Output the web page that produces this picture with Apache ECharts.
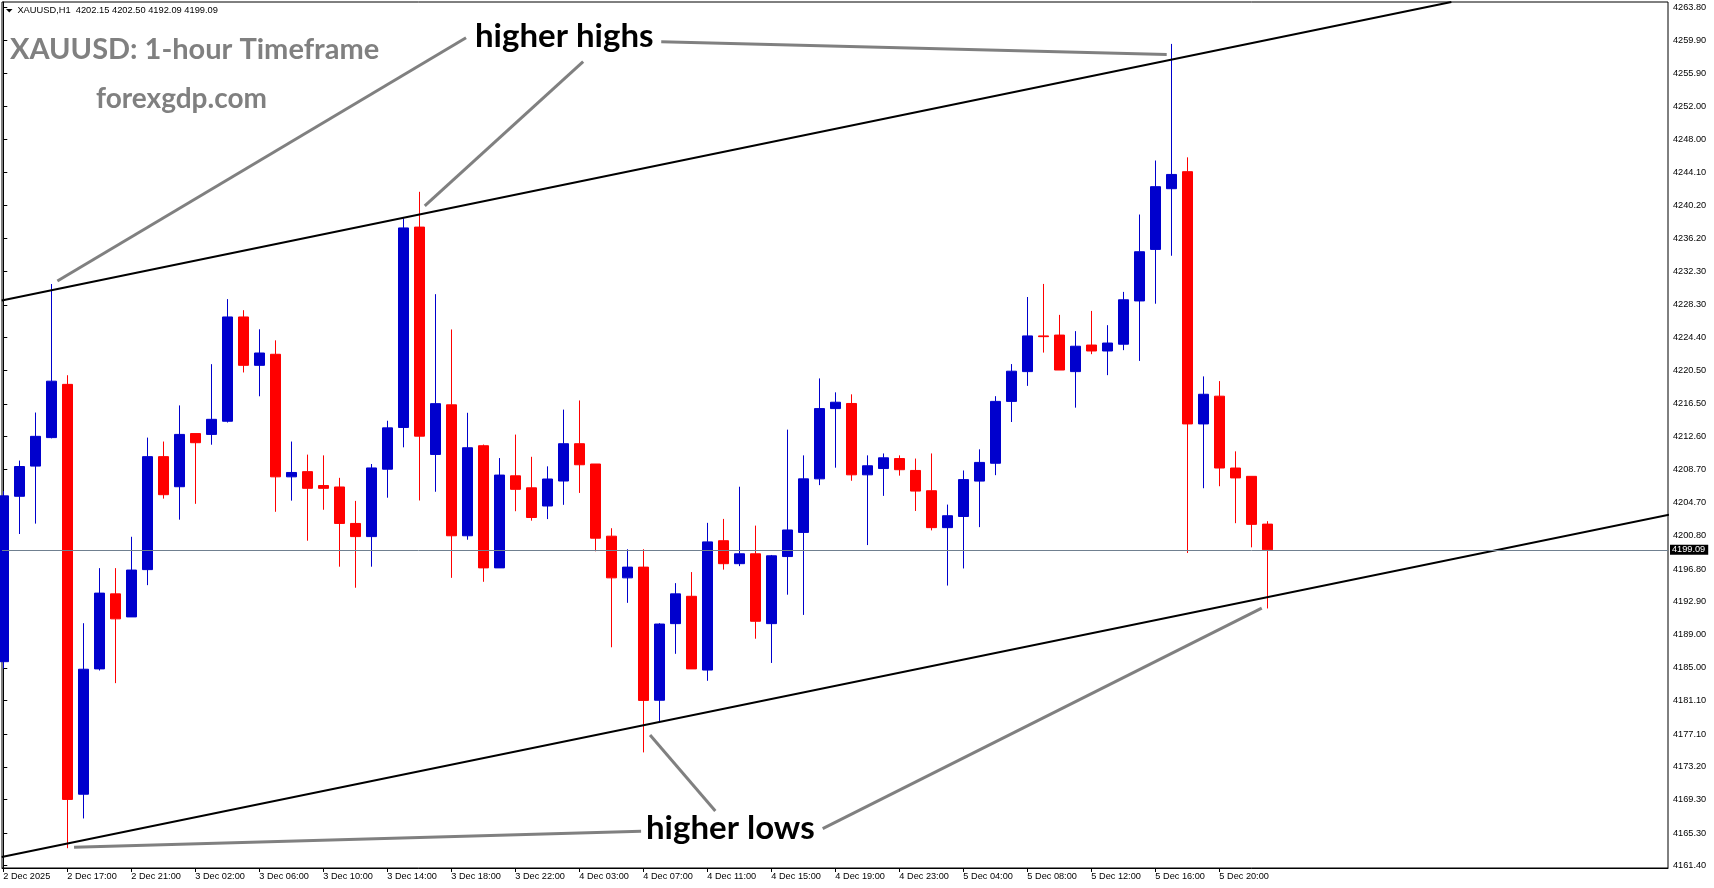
<!DOCTYPE html>
<html>
<head>
<meta charset="utf-8">
<script src="https://cdn.jsdelivr.net/npm/echarts@6/dist/echarts.min.js"></script>
<style>
html,body{margin:0;padding:0;background:#fff;}
#chart{width:1714px;height:888px;}
</style>
</head>
<body>
<div id="chart"></div>
<script>
// ---- data (hourly XAUUSD bars) ----
const times = [
 '2 Dec 13:00','2 Dec 14:00','2 Dec 15:00','2 Dec 16:00','2 Dec 17:00','2 Dec 18:00','2 Dec 19:00','2 Dec 20:00',
 '2 Dec 21:00','2 Dec 22:00','2 Dec 23:00','3 Dec 01:00','3 Dec 02:00','3 Dec 03:00','3 Dec 04:00','3 Dec 05:00',
 '3 Dec 06:00','3 Dec 07:00','3 Dec 08:00','3 Dec 09:00','3 Dec 10:00','3 Dec 11:00','3 Dec 12:00','3 Dec 13:00',
 '3 Dec 14:00','3 Dec 15:00','3 Dec 16:00','3 Dec 17:00','3 Dec 18:00','3 Dec 19:00','3 Dec 20:00','3 Dec 21:00',
 '3 Dec 22:00','3 Dec 23:00','4 Dec 01:00','4 Dec 02:00','4 Dec 03:00','4 Dec 04:00','4 Dec 05:00','4 Dec 06:00',
 '4 Dec 07:00','4 Dec 08:00','4 Dec 09:00','4 Dec 10:00','4 Dec 11:00','4 Dec 12:00','4 Dec 13:00','4 Dec 14:00',
 '4 Dec 15:00','4 Dec 16:00','4 Dec 17:00','4 Dec 18:00','4 Dec 19:00','4 Dec 20:00','4 Dec 21:00','4 Dec 22:00',
 '4 Dec 23:00','5 Dec 01:00','5 Dec 02:00','5 Dec 03:00','5 Dec 04:00','5 Dec 05:00','5 Dec 06:00','5 Dec 07:00',
 '5 Dec 08:00','5 Dec 09:00','5 Dec 10:00','5 Dec 11:00','5 Dec 12:00','5 Dec 13:00','5 Dec 14:00','5 Dec 15:00',
 '5 Dec 16:00','5 Dec 17:00','5 Dec 18:00','5 Dec 19:00','5 Dec 20:00','5 Dec 21:00','5 Dec 22:00','5 Dec 23:00'
];
const opens = [
 4185.74,4205.47,4209.07,4212.47,4218.82,4169.93,4184.88,4193.83,4191.08,4196.72,
 4210.20,4206.61,4212.95,4212.85,4214.42,4226.86,4221.09,4222.41,4207.79,4208.41,
 4206.75,4206.58,4202.23,4200.66,4208.70,4213.68,4237.58,4210.46,4216.38,4200.76,
 4211.50,4196.93,4207.91,4206.48,4204.31,4207.29,4211.74,4209.32,4200.71,4195.74,
 4197.02,4181.14,4190.28,4193.54,4184.74,4200.17,4197.43,4198.61,4190.28,4198.28,
 4201.16,4207.55,4215.93,4216.54,4208.03,4208.78,4209.97,4208.55,4206.13,4201.73,
 4203.06,4207.28,4209.41,4216.79,4220.34,4224.60,4224.70,4220.34,4223.51,4222.80,
 4223.61,4228.77,4234.92,4242.16,4244.19,4214.10,4217.41,4208.84,4207.85,4202.15
];
const highs = [
 4206.09,4209.73,4215.46,4230.79,4219.91,4190.33,4196.90,4196.90,4200.64,4212.47,
 4212.00,4216.31,4212.95,4221.23,4228.99,4227.67,4225.39,4224.07,4212.00,4210.44,
 4210.35,4207.67,4204.92,4209.32,4214.48,4238.62,4241.79,4229.58,4225.37,4215.43,
 4211.64,4210.03,4212.83,4210.18,4209.04,4215.81,4216.90,4209.32,4201.66,4199.15,
 4199.15,4190.33,4195.11,4196.43,4202.30,4202.77,4206.61,4201.97,4198.47,4213.42,
 4210.35,4219.53,4217.87,4217.63,4210.35,4210.58,4210.35,4209.97,4210.58,4204.48,
 4208.55,4211.07,4217.41,4221.24,4229.24,4230.80,4227.11,4225.17,4227.58,4225.88,
 4229.85,4239.08,4245.52,4259.43,4245.90,4219.77,4219.21,4210.83,4207.85,4202.50
];
const lows = [
 4184.93,4200.97,4202.21,4212.38,4163.49,4167.04,4184.69,4183.18,4191.08,4194.87,
 4205.19,4202.68,4204.57,4211.62,4214.27,4220.24,4217.40,4203.62,4204.95,4200.17,
 4203.86,4197.07,4194.56,4197.07,4205.30,4211.31,4204.97,4206.01,4195.74,4200.29,
 4195.27,4196.93,4203.69,4202.56,4202.75,4204.45,4205.87,4198.91,4187.46,4192.76,
 4174.92,4178.54,4186.68,4184.88,4183.46,4196.72,4197.14,4188.48,4185.59,4193.73,
 4191.32,4206.80,4208.88,4207.32,4199.65,4205.52,4207.93,4203.72,4201.40,4194.82,
 4196.86,4201.79,4207.99,4214.33,4218.64,4222.61,4220.53,4216.04,4222.42,4219.92,
 4222.90,4221.62,4228.44,4234.16,4198.71,4206.43,4206.67,4202.26,4199.38,4192.09
];
const closes = [
 4205.52,4209.02,4212.62,4219.20,4169.31,4184.84,4193.92,4190.85,4196.67,4210.20,
 4205.66,4212.85,4211.86,4214.65,4226.86,4221.09,4222.56,4207.79,4208.31,4206.42,
 4206.42,4202.23,4200.66,4208.85,4213.63,4237.48,4212.64,4216.52,4200.76,4211.26,
 4196.93,4208.00,4206.30,4202.94,4207.53,4211.74,4209.23,4200.47,4195.74,4197.02,
 4181.12,4190.23,4193.83,4184.88,4200.03,4197.43,4198.61,4190.56,4198.37,4201.45,
 4207.55,4215.93,4216.69,4208.03,4209.11,4210.06,4208.64,4206.09,4201.73,4203.15,
 4207.46,4209.51,4216.79,4220.39,4224.60,4224.51,4220.53,4223.37,4222.80,4223.75,
 4228.91,4234.64,4242.40,4243.86,4214.10,4217.64,4208.84,4207.66,4202.12,4199.09
];
const xTickLabels = [
 '2 Dec 2025','2 Dec 17:00','2 Dec 21:00','3 Dec 02:00','3 Dec 06:00','3 Dec 10:00','3 Dec 14:00',
 '3 Dec 18:00','3 Dec 22:00','4 Dec 03:00','4 Dec 07:00','4 Dec 11:00','4 Dec 15:00','4 Dec 19:00',
 '4 Dec 23:00','5 Dec 04:00','5 Dec 08:00','5 Dec 12:00','5 Dec 16:00','5 Dec 20:00'
];
const yTickValues = [
 4263.80,4259.90,4255.90,4252.00,4248.00,4244.10,4240.20,4236.20,4232.30,4228.30,4224.40,
 4220.50,4216.50,4212.60,4208.70,4204.70,4200.80,4196.80,4192.90,4189.00,4185.00,4181.10,
 4177.10,4173.20,4169.30,4165.30,4161.40
];
const bidPrice = 4199.09;
// channel lines: [bar index, price] end points
const upperChannel = [[-0.1, 4228.83], [90.5, 4264.43]];
const lowerChannel = [[-0.1, 4162.44], [104.1, 4203.27]];
// annotation pointer lines: [bar index, price] end points
const highPointers = [
 [[3.38, 4231.15], [28.92, 4260.17]],
 [[26.34, 4240.10], [36.24, 4257.31]],
 [[41.12, 4259.70], [72.71, 4258.16]]
];
const lowPointers = [
 [[4.42, 4163.61], [39.86, 4165.51]],
 [[40.42, 4177.00], [44.50, 4167.92]],
 [[51.21, 4165.83], [78.65, 4192.12]]
];
const symbolName = 'XAUUSD,H1';
const titleText = 'XAUUSD: 1-hour Timeframe';
const siteText = 'forexgdp.com';
const highText = 'higher highs';
const lowText = 'higher lows';

// ---- chart ----
const chart = echarts.init(document.getElementById('chart'), null, {renderer: 'canvas'});
const candleRows = times.map((t, i) => [i, opens[i], closes[i], lows[i], highs[i]]);
const tickIdx = times.map((t, i) => i).filter(i => i % 4 === 0);
const last = times.length - 1;
const headerText = symbolName + '  ' + [opens[last], highs[last], lows[last], closes[last]].map(v => v.toFixed(2)).join(' ');
const axisFont = 'Liberation Sans, Arial, sans-serif';

const pointerSeries = highPointers.concat(lowPointers).map(p => ({
  type: 'line', data: p, symbol: 'none', silent: true, z: 4,
  lineStyle: {color: '#808080', width: 3}
}));

chart.setOption({
  animation: false,
  backgroundColor: '#ffffff',
  grid: {left: 2, right: 46, top: 2, bottom: 20, show: true, borderColor: '#000', borderWidth: 1, containLabel: false},
  xAxis: {
    type: 'value', min: -0.081, max: 104.04,
    axisLine: {show: true, lineStyle: {color: '#000', width: 1}},
    axisTick: {show: true, length: 4, lineStyle: {color: '#000'}, customValues: tickIdx},
    axisLabel: {
      show: true, customValues: tickIdx, align: 'left', margin: 4,
      fontSize: 9.2, fontFamily: axisFont, color: '#000',
      formatter: v => xTickLabels[Math.round(v / 4)] || ''
    },
    splitLine: {show: false}
  },
  yAxis: {
    type: 'value', position: 'right', min: 4161.13, max: 4264.43, scale: true,
    axisLine: {show: true, lineStyle: {color: '#000', width: 1}},
    axisTick: {show: true, length: 4, lineStyle: {color: '#000'}, customValues: yTickValues},
    axisLabel: {
      show: true, customValues: yTickValues, margin: 5,
      fontSize: 9.2, fontFamily: axisFont, color: '#000',
      formatter: v => v.toFixed(2)
    },
    splitLine: {show: false}
  },
  series: [
    {
      type: 'candlestick', data: candleRows, encode: {x: 0, y: [1, 2, 3, 4]},
      barWidth: 10, z: 2, silent: true,
      itemStyle: {color: '#0000CD', color0: '#FF0000', borderColor: '#0000CD', borderColor0: '#FF0000', borderWidth: 1},
      markLine: {
        silent: true, symbol: ['none', 'none'], animation: false,
        lineStyle: {color: '#708090', width: 1, type: 'solid'},
        label: {
          show: true, position: 'end', distance: 2,
          formatter: () => bidPrice.toFixed(2),
          backgroundColor: '#000', color: '#fff', padding: [1, 3, 0, 2],
          fontSize: 9.2, fontFamily: axisFont
        },
        data: [{yAxis: bidPrice}]
      }
    },
    {type: 'line', data: upperChannel, symbol: 'none', silent: true, z: 3, lineStyle: {color: '#000', width: 2}},
    {type: 'line', data: lowerChannel, symbol: 'none', silent: true, z: 3, lineStyle: {color: '#000', width: 2}}
  ].concat(pointerSeries),
  graphic: [
    {type: 'polygon', shape: {points: [[6, 9], [12.5, 9], [9.25, 12.5]]}, style: {fill: '#000'}, silent: true},
    {type: 'text', silent: true, style: {text: headerText, x: 17.4, y: 10.7, fill: '#000', font: '9.3px Liberation Sans, Arial, sans-serif', align: 'left', verticalAlign: 'middle'}},
    {type: 'text', silent: true, style: {text: titleText, x: 10, y: 49.5, fill: '#808080', font: 'bold 29px Lato, sans-serif', align: 'left', verticalAlign: 'middle'}},
    {type: 'text', silent: true, style: {text: siteText, x: 96, y: 98.5, fill: '#808080', font: 'bold 28px Lato, sans-serif', align: 'left', verticalAlign: 'middle'}},
    {type: 'text', silent: true, z: 10, style: {text: highText, x: 475, y: 36.2, fill: '#000', font: 'bold 33px Lato, sans-serif', align: 'left', verticalAlign: 'middle'}},
    {type: 'text', silent: true, z: 10, style: {text: lowText, x: 646, y: 828.2, fill: '#000', font: 'bold 33px Lato, sans-serif', align: 'left', verticalAlign: 'middle'}}
  ]
});
</script>
</body>
</html>
